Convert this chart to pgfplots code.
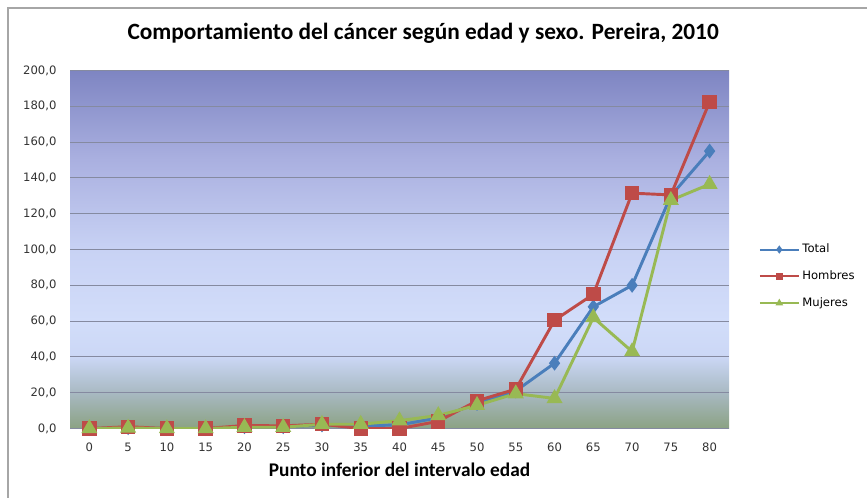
\documentclass[border=0pt]{standalone}
\usepackage{fontspec}
\setmainfont{DejaVu Sans}
\newfontfamily\calfont{Carlito}
\usepackage{pgfplots}
\pgfplotsset{compat=1.18}
\definecolor{cT}{HTML}{4A7EBB}
\definecolor{cH}{HTML}{BE4B48}
\definecolor{cM}{HTML}{98B954}
\definecolor{gridc}{HTML}{858AA0}
\definecolor{bg0}{HTML}{8BA283}
\definecolor{bg1}{HTML}{A8B9C2}
\definecolor{bg2}{HTML}{CBD7F5}
\definecolor{bg3}{HTML}{D2DDFA}
\definecolor{bg4}{HTML}{C8D2F4}
\definecolor{bg5}{HTML}{AAB0E0}
\definecolor{bg6}{HTML}{7E85C2}
\pgfdeclareverticalshading{excelbg}{100bp}{color(0bp)=(bg0); color(25bp)=(bg0); color(30bp)=(bg1); color(35bp)=(bg2); color(40bp)=(bg3); color(50bp)=(bg4); color(62.5bp)=(bg5); color(75bp)=(bg6); color(100bp)=(bg6)}
\pgfplotstableread{
x total hombres mujeres
0  0    0     0
5  0.5  1     0.3
10 0    0     0
15 0    0     0
20 1    1.7   0.7
25 1    1.5   0.7
30 2    2.4   2.4
35 1.5  0     2.4
40 2    0     4.4
45 6    4     7.3
50 14   15.5  13
55 21   22    19.5
60 36.5 60.5  16.8
65 68   75    62
70 80   131.5 43
75 130  130.5 127.5
80 155  182.5 136.5
}\datatab
\begin{document}
\begin{tikzpicture}
\useasboundingbox (0,0) rectangle (650.25pt,-373.5pt);
\draw[color=black!35, line width=0.8pt] (6pt,-380pt) -- (6pt,-6pt) -- (660pt,-6pt);
\begin{axis}[
  at={(52.5pt,-321.4pt)}, anchor=south west,
  scale only axis, width=494.25pt, height=268.5pt,
  xmin=-2.5, xmax=82.5, ymin=0, ymax=200,
  xtick={0,5,...,80}, ytick={0,20,...,200},
  axis background/.style={shade, shading=excelbg},
  axis line style={draw=none}, tick style={draw=none},
  ymajorgrids, grid style={gridc, line width=0.8pt},
  /pgf/number format/assume math mode=true,
  yticklabel style={/pgf/number format/.cd, fixed, fixed zerofill, precision=1, use comma, /tikz/.cd, font=\fontsize{8.7}{10}\selectfont, anchor=east, inner sep=0pt, xshift=-10pt, text=black!80},
  xticklabel style={font=\fontsize{8.7}{10}\selectfont, anchor=base, inner sep=0pt, yshift=-17.6pt, text=black!80},
  title={\calfont\bfseries Comportamiento del cáncer según edad y sexo. Pereira, 2010},
  title style={font=\fontsize{17.5}{20}\selectfont, at={(0.536,1.063)}, anchor=base, inner sep=0pt},
  xlabel={\calfont\bfseries Punto inferior del intervalo edad},
  xlabel style={font=\fontsize{14.5}{17}\selectfont, at={(0.5,-0.133)}, anchor=base, inner sep=0pt},
  legend style={at={(1.045,0.425)}, anchor=west, draw=none, fill=none, font=\fontsize{8.7}{10}\selectfont, row sep=8pt, inner sep=0pt},
  legend cell align=left,
  legend image code/.code={\draw[#1, line width=1.6pt, mark size=1.8pt, mark repeat=2, mark phase=2] plot coordinates {(0pt,0pt) (14.5pt,0pt) (29pt,0pt)};},
]
\addplot[cT, line width=2.2pt, mark=diamond*, mark size=3.8pt, mark options={solid}] table[x=x,y=total] {\datatab};
\addlegendentry{Total}
\addplot[cH, line width=2.2pt, mark=square*, mark size=4.3pt, mark options={solid}] table[x=x,y=hombres] {\datatab};
\addlegendentry{Hombres}
\addplot[cM, line width=2.2pt, mark=triangle*, mark size=4.8pt, mark options={solid}] table[x=x,y=mujeres] {\datatab};
\addlegendentry{Mujeres}
\end{axis}
\end{tikzpicture}
\end{document}
